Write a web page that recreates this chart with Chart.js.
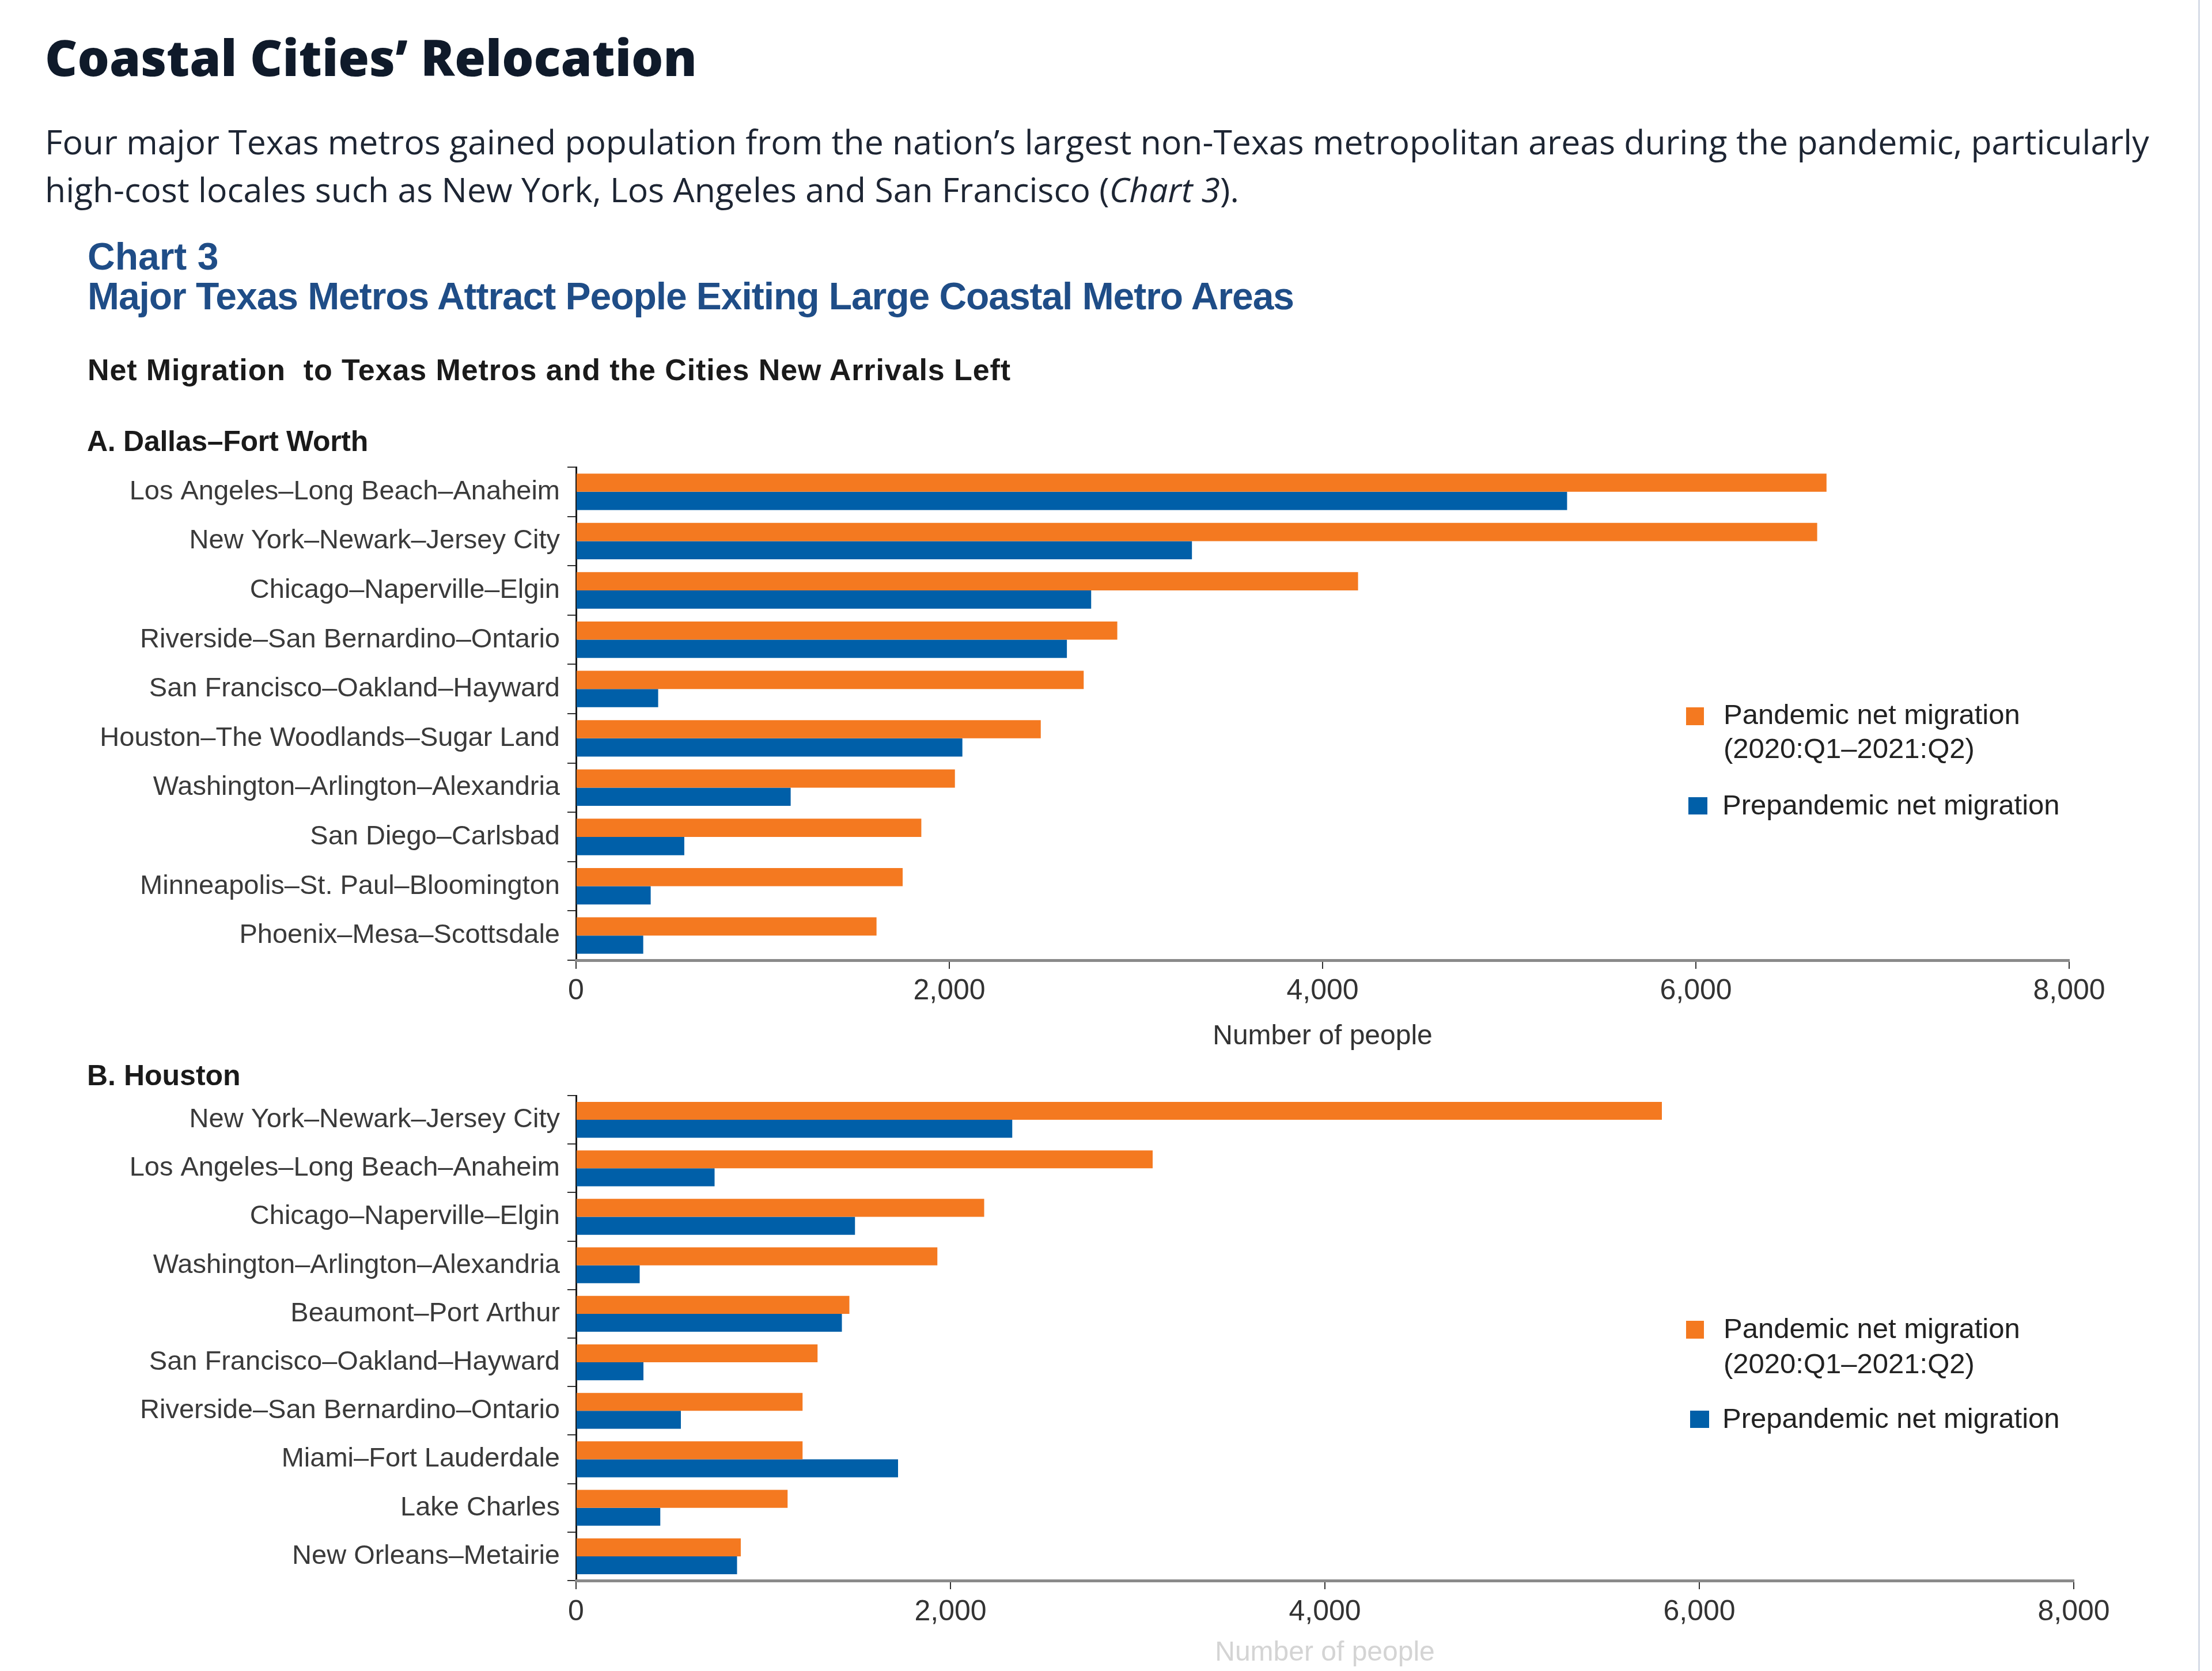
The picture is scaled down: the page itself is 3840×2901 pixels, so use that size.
<!DOCTYPE html>
<html>
<head>
<meta charset="utf-8">
<script src="https://cdn.jsdelivr.net/npm/chart.js@4.4.0/dist/chart.umd.min.js"></script>
<style>
html,body{margin:0;padding:0;background:#fff;}
body{width:3840px;height:2901px;position:relative;overflow:hidden;}
.t{position:absolute;white-space:nowrap;line-height:1;}
canvas{position:absolute;left:0;}
.sw{position:absolute;}
</style>
</head>
<body>
<div style="position:absolute;left:3816px;top:0;width:3px;height:2901px;background:#d6dce7"></div>
<canvas id="cA" width="3840" height="1160" style="top:700px;width:3840px;height:1160px"></canvas>
<canvas id="cB" width="3840" height="1071" style="top:1830px;width:3840px;height:1071px"></canvas>
<script>
// ---------- DATA ----------
const dfwCities = [
  "Los Angeles–Long Beach–Anaheim",
  "New York–Newark–Jersey City",
  "Chicago–Naperville–Elgin",
  "Riverside–San Bernardino–Ontario",
  "San Francisco–Oakland–Hayward",
  "Houston–The Woodlands–Sugar Land",
  "Washington–Arlington–Alexandria",
  "San Diego–Carlsbad",
  "Minneapolis–St. Paul–Bloomington",
  "Phoenix–Mesa–Scottsdale"
];
const dfwPandemic    = [6700, 6650, 4190, 2900, 2720, 2490, 2030, 1850, 1750, 1610];
const dfwPrepandemic = [5310, 3300, 2760, 2630,  440, 2070, 1150,  580,  400,  360];

const houCities = [
  "New York–Newark–Jersey City",
  "Los Angeles–Long Beach–Anaheim",
  "Chicago–Naperville–Elgin",
  "Washington–Arlington–Alexandria",
  "Beaumont–Port Arthur",
  "San Francisco–Oakland–Hayward",
  "Riverside–San Bernardino–Ontario",
  "Miami–Fort Lauderdale",
  "Lake Charles",
  "New Orleans–Metairie"
];
const houPandemic    = [5800, 3080, 2180, 1930, 1460, 1290, 1210, 1210, 1130, 880];
const houPrepandemic = [2330,  740, 1490,  340, 1420,  360,  560, 1720,  450, 860];

const xTicks = [0, 2000, 4000, 6000, 8000];
const seriesNames = ["Pandemic net migration (2020:Q1–2021:Q2)", "Prepandemic net migration"];

// ---------- STYLE ----------
const ARIAL = '"Liberation Sans", Arial, sans-serif';
const OPEN = '"Open Sans", sans-serif';
const ORANGE = '#F47920';
const BLUE = '#005FA8';
Chart.defaults.font.family = ARIAL;

function makeChart(id, cats, pand, prep, cfg) {
  return new Chart(document.getElementById(id), {
    type: 'bar',
    data: {
      labels: cats,
      datasets: [
        { label: seriesNames[0], data: pand, backgroundColor: ORANGE, borderWidth: 0,
          categoryPercentage: 0.74, barPercentage: 1.0 },
        { label: seriesNames[1], data: prep, backgroundColor: BLUE, borderWidth: 0,
          categoryPercentage: 0.74, barPercentage: 1.0 }
      ]
    },
    options: {
      indexAxis: 'y',
      responsive: false,
      animation: false,
      events: [],
      devicePixelRatio: 1,
      layout: { padding: { top: cfg.padTop, right: cfg.padRight, left: 0, bottom: 0 } },
      plugins: { legend: { display: false }, tooltip: { enabled: false } },
      scales: {
        y: {
          z: 1,
          ticks: { color: '#3a3a3a', font: { size: 47 }, padding: 13, autoSkip: false },
          grid: { display: true, drawOnChartArea: false, drawTicks: true, tickLength: 15,
                  color: '#333', lineWidth: 2, offset: true },
          border: { display: true, color: '#1a1a1a', width: 3 },
          afterFit: s => { s.width = 1000; }
        },
        x: {
          min: xTicks[0], max: xTicks[xTicks.length - 1],
          afterBuildTicks: s => { s.ticks = xTicks.map(v => ({ value: v })); },
          ticks: { color: '#333', font: { size: 50 }, padding: cfg.tickPad, maxRotation: 0, autoSkip: false,
                   callback: v => Number(v).toLocaleString('en-US') },
          grid: { drawOnChartArea: false, drawTicks: true, tickLength: 15, color: '#333', lineWidth: 2 },
          border: { display: true, color: '#8a8a8a', width: 5 },
          title: { display: true, text: 'Number of people', color: cfg.titleColor,
                   font: { size: 48 }, padding: { top: 0, bottom: cfg.titlePadBottom } },
          afterFit: s => { s.height = cfg.xHeight; }
        }
      }
    }
  });
}

makeChart('cA', dfwCities, dfwPandemic, dfwPrepandemic,
  { padTop: 111, padRight: 248, xHeight: 193, tickPad: 9, titlePadBottom: 31, titleColor: '#333' });
makeChart('cB', houCities, houPandemic, houPrepandemic,
  { padTop: 72, padRight: 240, xHeight: 157, tickPad: 10, titlePadBottom: 2, titleColor: '#d4d4d4' });

// ---------- HTML TEXT ----------
function placeText(html, x, cy, fam, weight, fs, color, target, mode, k) {
  const d = document.createElement('div');
  d.className = 't';
  d.innerHTML = html;
  d.style.left = x + 'px';
  d.style.fontFamily = fam;
  d.style.fontWeight = weight;
  d.style.fontSize = fs + 'px';
  d.style.color = color;
  document.body.appendChild(d);
  if (target) {
    const w0 = d.getBoundingClientRect().width;
    if (mode === 'size') { fs = fs * target / w0; d.style.fontSize = fs + 'px'; }
    else { const n = d.textContent.length; d.style.letterSpacing = ((target - w0) / n) + 'px'; }
  }
  d.style.top = (cy - k * fs) + 'px';
  return fs;
}
const KA = 0.4885, KO = 0.531;

placeText('Coastal Cities’ Relocation', 78, 101, OPEN, 800, 88, '#0f1a2a', 1132, 'size', KO);
const pfs = placeText('Four major Texas metros gained population from the nation’s largest non-Texas metropolitan areas during the pandemic, particularly',
  78, 247, OPEN, 400, 56, '#1d2533', 3654, 'size', KO);
placeText('high-cost locales such as New York, Los Angeles and San Francisco (<i>Chart 3</i>).',
  78, 330, OPEN, 400, pfs, '#1d2533', 0, null, KO);

placeText('Chart 3', 152, 444, ARIAL, 700, 66, '#1f4d87', 0, null, KA);
placeText('Major Texas Metros Attract People Exiting Large Coastal Metro Areas', 152, 513, ARIAL, 700, 66, '#1f4d87', 2094, 'ls', KA);
placeText('Net Migration&nbsp; to Texas Metros and the Cities New Arrivals Left', 152, 641, ARIAL, 700, 52, '#1a1a1a', 1603, 'ls', KA);
placeText('A. Dallas–Fort Worth', 151, 765, ARIAL, 700, 50, '#1a1a1a', 488, 'ls', KA);
placeText('B. Houston', 151, 1866, ARIAL, 700, 50, '#1a1a1a', 0, null, KA);

// legends
function legend(y1, y2, y3, sq1, sq2) {
  const a = document.createElement('div'); a.className = 'sw';
  Object.assign(a.style, { left: sq1[0] + 'px', top: sq1[1] + 'px', width: '31px', height: '31px', background: ORANGE });
  document.body.appendChild(a);
  const b = document.createElement('div'); b.className = 'sw';
  Object.assign(b.style, { left: sq2[0] + 'px', top: sq2[1] + 'px', width: '33px', height: '30px', background: BLUE });
  document.body.appendChild(b);
  placeText('Pandemic net migration', 2992, y1, ARIAL, 400, 49, '#222', 0, null, KA);
  placeText('(2020:Q1–2021:Q2)', 2992, y2, ARIAL, 400, 49, '#222', 0, null, KA);
  placeText('Prepandemic net migration', 2990, y3, ARIAL, 400, 49, '#222', 0, null, KA);
}
legend(1240, 1299, 1397, [2927, 1228], [2931, 1384]);
legend(2306, 2367, 2462, [2927, 2293], [2934, 2449]);
</script>
</body>
</html>
